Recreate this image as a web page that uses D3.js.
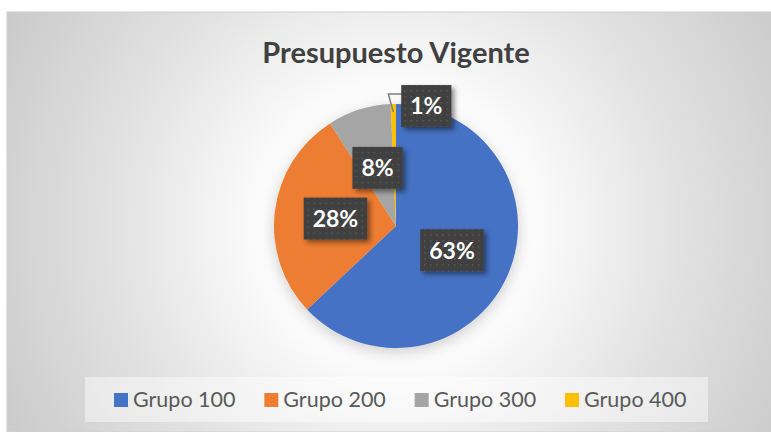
<!DOCTYPE html>
<html>
<head>
<meta charset="utf-8">
<script src="https://cdn.jsdelivr.net/npm/d3@7"></script>
<style>
  html, body { margin: 0; padding: 0; background: #fff; }
  svg { display: block; }
</style>
</head>
<body>
<div id="chart-area"></div>
<script>
// data
const categories = ["Grupo 100", "Grupo 200", "Grupo 300", "Grupo 400"]
const shares = [63.0, 27.9, 8.4, 0.7]
const colors = ["#4472C4", "#ED7D31", "#A5A5A5", "#FFC000"]
const chartTitle = "Presupuesto Vigente"

const svgWidth = 771
const svgHeight = 432
const cx = 396, cy = 226, radius = 122

const dataset = categories.map((c, i) => ({ name: c, value: shares[i], color: colors[i] }))

const svg = d3.select("#chart-area")
  .append("svg")
  .attr("width", svgWidth)
  .attr("height", svgHeight)

const defs = svg.append("defs")

const bg = defs.append("radialGradient")
  .attr("id", "bg")
  .attr("gradientUnits", "userSpaceOnUse")
  .attr("cx", cx).attr("cy", cy).attr("r", 470)
bg.append("stop").attr("offset", 0).attr("stop-color", "#ffffff")
bg.append("stop").attr("offset", 0.3).attr("stop-color", "#fbfbfb")
bg.append("stop").attr("offset", 0.6).attr("stop-color", "#e2e2e2")
bg.append("stop").attr("offset", 1).attr("stop-color", "#c6c6c6")

// dotted label background
const pat = defs.append("pattern")
  .attr("id", "dots")
  .attr("patternUnits", "userSpaceOnUse")
  .attr("width", 6).attr("height", 6)
pat.append("rect").attr("width", 6).attr("height", 6).attr("fill", "#404040")
pat.append("rect").attr("x", 2).attr("y", 2).attr("width", 1.5).attr("height", 1.5).attr("fill", "#5a5a5a")

const shadow = defs.append("filter").attr("id", "shadow")
  .attr("x", "-30%").attr("y", "-30%").attr("width", "170%").attr("height", "170%")
shadow.append("feDropShadow")
  .attr("dx", 3).attr("dy", 3).attr("stdDeviation", 2.5)
  .attr("flood-color", "#000").attr("flood-opacity", 0.45)

const pieShadow = defs.append("filter").attr("id", "pieShadow")
  .attr("x", "-20%").attr("y", "-20%").attr("width", "140%").attr("height", "140%")
pieShadow.append("feDropShadow")
  .attr("dx", 0).attr("dy", 4).attr("stdDeviation", 7)
  .attr("flood-color", "#000").attr("flood-opacity", 0.18)

// chart area background
svg.append("rect")
  .attr("x", 7).attr("y", 12)
  .attr("width", svgWidth - 7).attr("height", svgHeight - 12)
  .attr("fill", "url(#bg)")
  .attr("stroke", "#d0d0d0")
  .attr("stroke-width", 1)

svg.append("text")
  .attr("x", cx)
  .attr("y", 63)
  .attr("text-anchor", "middle")
  .attr("font-family", "Lato, 'Open Sans', sans-serif")
  .attr("font-weight", 700)
  .attr("font-size", 29)
  .attr("fill", "#404040")
  .text(chartTitle)

const pie = d3.pie().sort(null).value(d => d.value)
const arcs = pie(dataset)
const arc = d3.arc().innerRadius(0).outerRadius(radius)
const labelArc = d3.arc().innerRadius(0).outerRadius(radius)
const edgeArc = d3.arc().innerRadius(radius).outerRadius(radius)

const chart = svg.append("g")
  .attr("transform", `translate(${cx},${cy})`)

chart.append("g")
  .attr("filter", "url(#pieShadow)")
  .selectAll("path")
  .data(arcs)
  .join("path")
  .attr("d", arc)
  .attr("fill", d => d.data.color)

// labels
const total = d3.sum(shares)
const labels = arcs.map(d => {
  const small = d.data.value < 2
  let [x, y] = small ? edgeArc.centroid(d) : labelArc.centroid(d)
  const anchor = [x, y]
  if (small) { x += 33; y += 2 }
  return { d, x, y, anchor, small, text: Math.round(d.data.value / total * 100) + "%" }
})

// leader line for the tiny slice
labels.filter(l => l.small).forEach(l => {
  chart.append("polyline")
    .attr("points", [
      [l.x - 24, l.y - 12],
      [l.anchor[0] - 5, l.y - 12],
      [l.anchor[0], l.anchor[1] + 8]
    ].map(p => p.join(",")).join(" "))
    .attr("fill", "none")
    .attr("stroke", "#7f7f7f")
    .attr("stroke-width", 1.5)
})

const lab = chart.append("g")
  .selectAll("g")
  .data(labels)
  .join("g")
  .attr("transform", l => `translate(${l.x},${l.y})`)

lab.append("text")
  .attr("text-anchor", "middle")
  .attr("dy", "0.36em")
  .attr("font-family", "Lato, 'Open Sans', sans-serif")
  .attr("font-weight", 700)
  .attr("font-size", 23)
  .attr("fill", "#ffffff")
  .text(l => l.text)

lab.each(function () {
  const g = d3.select(this)
  const w = g.select("text").node().getComputedTextLength() + 18
  g.insert("rect", "text")
    .attr("x", -w / 2).attr("y", -21)
    .attr("width", w).attr("height", 42)
    .attr("fill", "url(#dots)")
    .attr("filter", "url(#shadow)")
})

// legend
svg.append("rect")
  .attr("x", 85).attr("y", 377)
  .attr("width", 623).attr("height", 45)
  .attr("fill", "#ffffff")
  .attr("fill-opacity", 0.45)

const legendX = d3.scaleLinear().domain([0, categories.length - 1]).range([114, 565])

const legend = svg.append("g")
  .selectAll("g")
  .data(dataset)
  .join("g")
  .attr("transform", (d, i) => `translate(${legendX(i)},393)`)

legend.append("rect")
  .attr("width", 14).attr("height", 14)
  .attr("fill", d => d.color)

legend.append("text")
  .attr("x", 19)
  .attr("y", 14)
  .attr("font-family", "Lato, 'Open Sans', sans-serif")
  .attr("font-size", 21.5)
  .attr("fill", "#595959")
  .text(d => d.name)
</script>
</body>
</html>
